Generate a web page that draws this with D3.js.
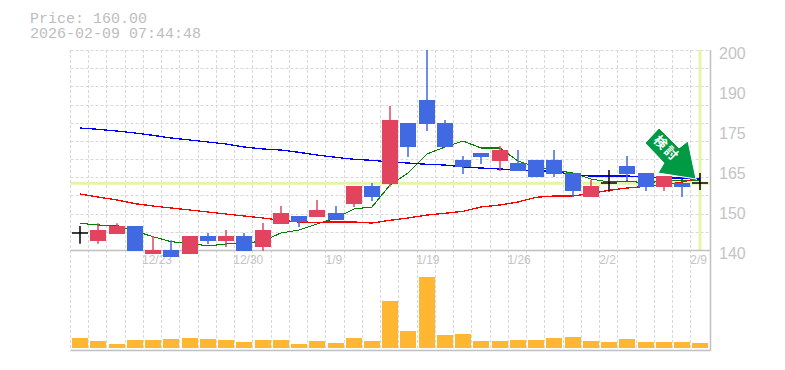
<!DOCTYPE html>
<html>
<head>
<meta charset="utf-8">
<script src="https://cdn.jsdelivr.net/npm/d3@7"></script>
<style>
    html, body { margin: 0; padding: 0; background: #fff; }
    svg { display: block; }
</style>
</head>
<body>
<script>
// trading days
const dates = ["12/17","12/18","12/19","12/22","12/23","12/24","12/25","12/26","12/29","12/30",
    "1/5","1/6","1/7","1/8","1/9","1/13","1/14","1/15","1/16","1/19",
    "1/20","1/21","1/22","1/23","1/26","1/27","1/28","1/29","1/30","2/2",
    "2/3","2/4","2/5","2/6","2/9"];
const opens = [145,142.8,144.9,147.2,138.8,140,138.8,144.2,142.7,144.2,
    140.9,147.8,150.2,149.9,151.1,153.8,159.2,159.8,178.1,185,
    178.1,167,169.1,166.7,166.1,167,167,163.1,155.9,160.2,
    165.2,163.1,158.9,160.1,160];
const closes = [145,146,147.2,139.8,140,137.9,144.2,142.7,144.2,139.7,
    146,151.1,148.4,152,149,159.2,155.9,179,170.9,177.8,
    170.9,164.9,167.9,170,163.7,161.9,162.8,157.7,159.2,160.2,
    162.8,158.9,162.2,158.9,160];
const highs = [147.2,148,148,147.2,144.2,142.9,144.2,145.1,146,145.1,
    148.1,153.2,150.2,155,153.2,159.2,160.1,183.2,178.1,200,
    179,168.2,169.1,171.2,170,167,170,163.1,161,164,
    168.2,163.1,162.2,160.1,163.1];
const lows = [141.9,141.9,144.9,139.8,138.8,137.9,138.8,141.8,140.9,139.7,
    139.7,147.8,146.9,149.9,149,152.9,154.7,159,167.9,175.7,
    170.9,162.8,165.8,163.7,163.7,161.9,161.9,155.9,155.9,157.5,
    160.7,157.7,157.7,155.9,158];
const volumes = [10,7,4,8,8,9,10,9,8,6,8,8,4,7,5,10,7,47,17,71,13,14,7,7,8,8,10,11,7,6,9,6,6,6,5];
const maShort = [148,147.5,147.35,145.7,144,142.5,142,141.2,141.8,142,
    142.7,145.1,146,147.8,149.6,152.3,152.9,159.5,163.1,168.8,
    170.9,172.7,170.6,170.6,166.7,164.9,164,163.1,161.3,160.4,
    160.7,160.1,160.7,161,160.7];
const maMid = [156.8,155.9,155,153.9,153.2,152.6,152,151.4,150.8,150.2,
    149.6,148.9,148.4,148.3,148.4,148.4,148.1,148.9,149.6,150.5,
    151,151.6,152.9,153.5,154.4,155.8,156.2,156.2,157,157.9,
    158.6,159.1,159.5,160.4,161.6];
const maLong = [176.6,176.2,175.7,175.1,174.4,173.6,173,172.4,171.8,170.9,
    170.3,170,169.3,168.5,167.8,167.2,166.9,166.4,166.1,165.7,
    165.5,164.9,164.6,164.3,164,163.7,163.7,162.5,162.2,162.2,
    162.2,161.9,161.6,161.6,161.3];
const priceTicks = [140,152,164,176,188,200];
const priceLabels = ["140","150","165","175","190","200"];
const dateTicks = ["12/23","12/30","1/9","1/19","1/26","2/2","2/9"];
const currentPrice = 160;

const width = 785, height = 370;
const left = 70.5, right = 709.5;

const svg = d3.select("body").append("svg")
    .attr("width", width)
    .attr("height", height);

// scales
const x = d3.scaleBand().domain(dates).range([71, 709.5]);
const cx = d => Math.round(x(d) + x.bandwidth() / 2);
const y = d3.scaleLinear().domain([140, 200]).range([250, 50]);
const yVol = d3.scaleLinear().domain([0, 75]).range([348, 273]);

const edges = dates.map(d => Math.round(x(d)) - 0.5);
const hGrid = d3.range(0, 12).map(i => Math.round(50 + i * 200 / 11) + 0.5);

// grid
svg.append("g").selectAll("line").data(edges).join("line")
    .attr("x1", d => d).attr("x2", d => d)
    .attr("y1", 50).attr("y2", 350)
    .attr("stroke", "#d8d8d8").attr("stroke-dasharray", "3,2");
svg.append("g").selectAll("line").data(hGrid).join("line")
    .attr("x1", left).attr("x2", right)
    .attr("y1", d => d).attr("y2", d => d)
    .attr("stroke", "#d8d8d8").attr("stroke-dasharray", "3,2");

// current price and last day guides
svg.append("line")
    .attr("x1", left).attr("x2", right)
    .attr("y1", y(currentPrice)).attr("y2", y(currentPrice))
    .attr("stroke", "#e4f5a9").attr("stroke-width", 3);
svg.append("line")
    .attr("x1", cx("2/9")).attr("x2", cx("2/9"))
    .attr("y1", 50).attr("y2", 250)
    .attr("stroke", "#e4f5a9").attr("stroke-width", 3);

// frame
svg.append("path")
    .attr("d", `M${left},250.5H710.5M${left},350.5H710.5M710.5,50V351`)
    .attr("fill", "none")
    .attr("stroke", "#c0c0c0")
    .attr("stroke-width", 1.5);

// axes
const axisRight = d3.axisRight(y)
    .tickValues(priceTicks)
    .tickSize(0)
    .tickPadding(9)
    .tickFormat((d, i) => priceLabels[i]);
const gRight = svg.append("g")
    .attr("transform", "translate(710,3)")
    .call(axisRight);
gRight.select(".domain").remove();
gRight.selectAll("text")
    .attr("fill", "#c4c4c4")
    .style("font-family", "'Liberation Sans'")
    .style("font-size", "16px");

const axisBottom = d3.axisBottom(x)
    .tickValues(dateTicks)
    .tickSize(0)
    .tickPadding(5);
const gBottom = svg.append("g")
    .attr("transform", "translate(0,250)")
    .call(axisBottom);
gBottom.select(".domain").remove();
gBottom.selectAll("text")
    .attr("dx", d => (d.length - 3.6) * 2.8)
    .attr("fill", "#c4c4c4")
    .style("font-family", "'Liberation Sans'")
    .style("font-size", "12px");

// moving averages
const maLine = d3.line()
    .x((d, i) => cx(dates[i]))
    .y(d => y(d));
[[maShort, "#008000", 1.1], [maMid, "#ff0000", 1.3], [maLong, "#0000ff", 1.3]].forEach(m => {
    svg.append("path")
        .datum(m[0])
        .attr("d", maLine)
        .attr("fill", "none")
        .attr("stroke", m[1])
        .attr("stroke-width", m[2])
        .attr("shape-rendering", "crispEdges");
});

// candles
const candles = svg.append("g");
dates.forEach((d, i) => {
    const o = opens[i], c = closes[i];
    const color = o === c ? "#000" : (c > o ? "#e2445f" : "#4169e1");
    candles.append("line")
        .attr("x1", cx(d)).attr("x2", cx(d))
        .attr("y1", y(highs[i])).attr("y2", y(lows[i]))
        .attr("stroke", color)
        .attr("stroke-width", 1.5);
    if (o === c) {
        candles.append("line")
            .attr("x1", cx(d) - 8).attr("x2", cx(d) + 8)
            .attr("y1", Math.round(y(o))).attr("y2", Math.round(y(o)))
            .attr("stroke", color)
            .attr("stroke-width", 1.5);
    } else {
        candles.append("rect")
            .attr("x", cx(d) - 8)
            .attr("width", 16)
            .attr("y", Math.round(y(Math.max(o, c))))
            .attr("height", Math.round(Math.abs(y(o) - y(c))))
            .attr("fill", color);
    }
});

// volume
svg.append("g").selectAll("rect").data(volumes).join("rect")
    .attr("x", (d, i) => cx(dates[i]) - 8)
    .attr("width", 16)
    .attr("y", d => yVol(d))
    .attr("height", d => yVol(0) - yVol(d))
    .attr("fill", "#ffb733");

// title
const title = svg.append("text")
    .attr("fill", "#bdbdbd")
    .style("font-family", "'Liberation Mono'")
    .style("font-size", "15px");
title.append("tspan").attr("x", 30).attr("y", 23).text("Price: " + currentPrice.toFixed(2));
title.append("tspan").attr("x", 30).attr("y", 38).text("2026-02-09 07:44:48");

// signal arrow
const arrow = svg.append("g");
arrow.append("path")
    .attr("d", "M659,128L645,143L664,163L658,173L696,179L688,141L679,148Z")
    .attr("fill", "#009944")
    .attr("stroke", "#fff")
    .attr("stroke-width", 1);
arrow.append("text")
    .attr("transform", "translate(666.5,148.5) rotate(45)")
    .attr("text-anchor", "middle")
    .attr("dy", "0.35em")
    .attr("fill", "#fff")
    .style("font-family", "'Noto Sans CJK JP'")
    .style("font-weight", "700")
    .style("font-size", "13px")
    .style("letter-spacing", "2px")
    .text("検討");
</script>
</body>
</html>
